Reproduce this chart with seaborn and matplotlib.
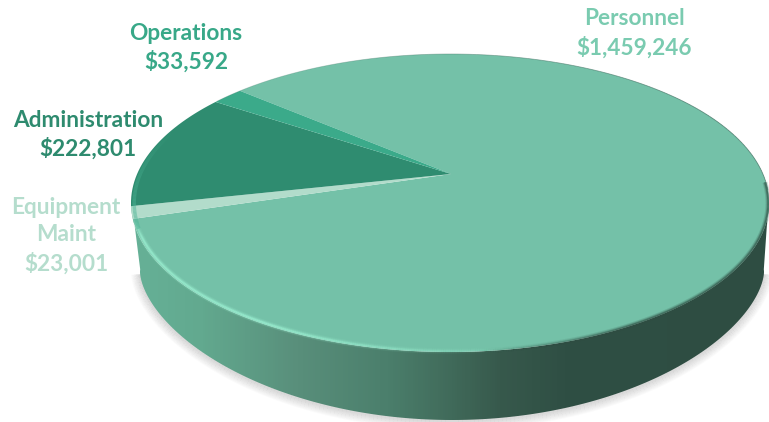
import numpy as np
import matplotlib
matplotlib.use("Agg")
import matplotlib.pyplot as plt
from matplotlib.collections import LineCollection
from matplotlib.colors import LinearSegmentedColormap, to_rgb
from matplotlib.patches import PathPatch
from matplotlib.path import Path
from matplotlib.transforms import Affine2D, Transform
import seaborn as sns

# Budget figures, listed clockwise from the start of the Personnel slice
categories = ["Personnel", "Equipment\nMaint", "Administration", "Operations"]
amounts = [1459246, 23001, 222801, 33592]
slice_colors = ["#74C1A8", "#B2DCCB", "#2F8C70", "#3BAA8A"]
label_colors = ["#7ACBB0", "#B5DDCD", "#2E8B6F", "#38A888"]
label_x = [634, 66, 88, 186]
label_y = [33.5, 235.5, 135, 48]

# Ellipse of the top face and of the base, in pixels
TOP = dict(cx=450.0, cy=203.0, a=319.0, b=149.0)
BASE = dict(cx=452.0, cy=272.0, a=312.0, b=148.0, p=1.2)
APEX = (451.0, 174.0)
START_ANGLE = 139.3

sns.set_theme(style="white")
plt.rcParams["font.family"] = ["Lato", "DejaVu Sans"]


class DiscPerspective(Transform):
    """Projective map of the unit disc onto the tilted top face."""
    input_dims = output_dims = 2
    is_affine = False
    has_inverse = False

    def __init__(self, face, apex):
        super().__init__()
        self.face = face
        p = np.array([(apex[0] - face["cx"]) / face["a"],
                      (face["cy"] - apex[1]) / face["b"]])
        n2 = p @ p
        g = 1 / np.sqrt(1 - n2)
        m = np.eye(3)
        m[:2, :2] += (g - 1) * np.outer(p, p) / n2
        m[:2, 2] = g * p
        m[2, :2] = g * p
        m[2, 2] = g
        self.matrix = m

    def transform_non_affine(self, values):
        v = np.asarray(values, float)
        h = np.c_[v, np.ones(len(v))] @ self.matrix.T
        x, y = h[:, 0] / h[:, 2], h[:, 1] / h[:, 2]
        return np.c_[self.face["cx"] + self.face["a"] * x,
                     self.face["cy"] - self.face["b"] * y]

    def transform_path_non_affine(self, path):
        polys = path.transformed(Affine2D().scale(800)).to_polygons(closed_only=False)
        return Path(self.transform_non_affine(np.vstack(polys) / 800))


def ring(face, deg, scale=1.0):
    t = np.radians(deg)
    s = np.sin(t)
    return np.c_[face["cx"] + scale * face["a"] * np.cos(t),
                 face["cy"] - scale * face["b"] * np.sign(s) * np.abs(s) ** face.get("p", 1.0)]


def stroke(points, colors, alphas, width, z):
    seg = np.stack([points[:-1], points[1:]], axis=1)
    rgba = np.c_[np.tile(to_rgb(colors), (len(seg), 1)), alphas[:-1]]
    ax.add_collection(LineCollection(seg, colors=rgba, linewidths=width * 0.72,
                                     capstyle="butt", zorder=z))


fig = plt.figure(figsize=(7.69, 4.22), dpi=100)
ax = fig.add_axes([0, 0, 1, 1])

wedges, _ = ax.pie(amounts, colors=sns.color_palette(slice_colors), startangle=START_ANGLE,
                   counterclock=False, radius=1, center=(0, 0))
ax.set_aspect("auto")
ax.set_xlim(0, 769)
ax.set_ylim(422, 0)
ax.set_axis_off()

persp = DiscPerspective(TOP, APEX)
for w in wedges:
    w.set_transform(persp + ax.transData)
    w.set_edgecolor("none")
    w.set_zorder(5)

# Outer wall of the disc, shaded from left to right
sweep = np.linspace(178, 362, 300)
wall = np.vstack([ring(TOP, sweep), ring(BASE, sweep[::-1])])
wall_patch = PathPatch(Path(np.vstack([wall, wall[:1]]), closed=True), fc="none", ec="none",
                       transform=ax.transData)
ax.add_patch(wall_patch)
wall_cmap = LinearSegmentedColormap.from_list(
    "wall", [(0.0, "#66B197"), (0.11, "#62A98F"), (0.26, "#598F7B"), (0.40, "#4B7F6C"),
             (0.48, "#436F5E"), (0.58, "#37594C"), (0.68, "#2F4F44"), (1.0, "#2E4D42")])
grad = ax.imshow(np.linspace(0, 1, 640)[None, :], cmap=wall_cmap, extent=(130, 770, 422, 200),
                 aspect="auto", zorder=3, vmin=0, vmax=1)
grad.set_clip_path(wall_patch)
ax.set_xlim(0, 769)
ax.set_ylim(422, 0)

# Soft drop shadow under the base
shadow_sweep = np.linspace(181, 359, 240)
for lw in range(2, 20, 2):
    pts = ring(BASE, shadow_sweep) + [0, 1]
    stroke(pts, "#888888", np.full(len(pts), 0.035), lw, 2)

# Bevel along the top face: bright on the lit side, dark on the shaded side
deg = np.linspace(186, 284, 240)
glow = np.clip((deg - 186) / 8, 0, 1) * np.clip((284 - deg) / 50, 0, 1)
for lw, k in [(6, 0.15), (4, 0.28), (2.4, 0.45), (1.2, 0.5)]:
    stroke(ring(TOP, deg, 0.993), "#9CF0D2", glow * k, lw, 6)
deg = np.linspace(275, 368, 200)
dark = np.clip((deg - 275) / 30, 0, 1)
for lw, k in [(5, 0.18), (3, 0.3), (1.5, 0.5)]:
    stroke(ring(TOP, deg, 0.997), "#2E4D42", dark * k, lw, 6)
deg = np.linspace(5, 137, 200)
stroke(ring(TOP, deg), "#3F6F60", np.clip(1 - (deg - 5) / 150, 0.25, 0.8), 0.8, 6)

# Lighter edge on the Administration slice
deg = np.linspace(150, 190, 80)
stroke(ring(TOP, deg, 0.99), "#4DB596", np.clip((deg - 150) / 30, 0, 1) * 0.5, 3.5, 6)

# Category and amount labels
for name, amount, x, y, color in zip(categories, amounts, label_x, label_y, label_colors):
    ax.text(x, y, f"{name}\n${amount:,}", color=color, fontsize=16.3, fontweight="bold",
            ha="center", va="center", linespacing=1.38, zorder=8)

fig.savefig("out.png", dpi=100)
